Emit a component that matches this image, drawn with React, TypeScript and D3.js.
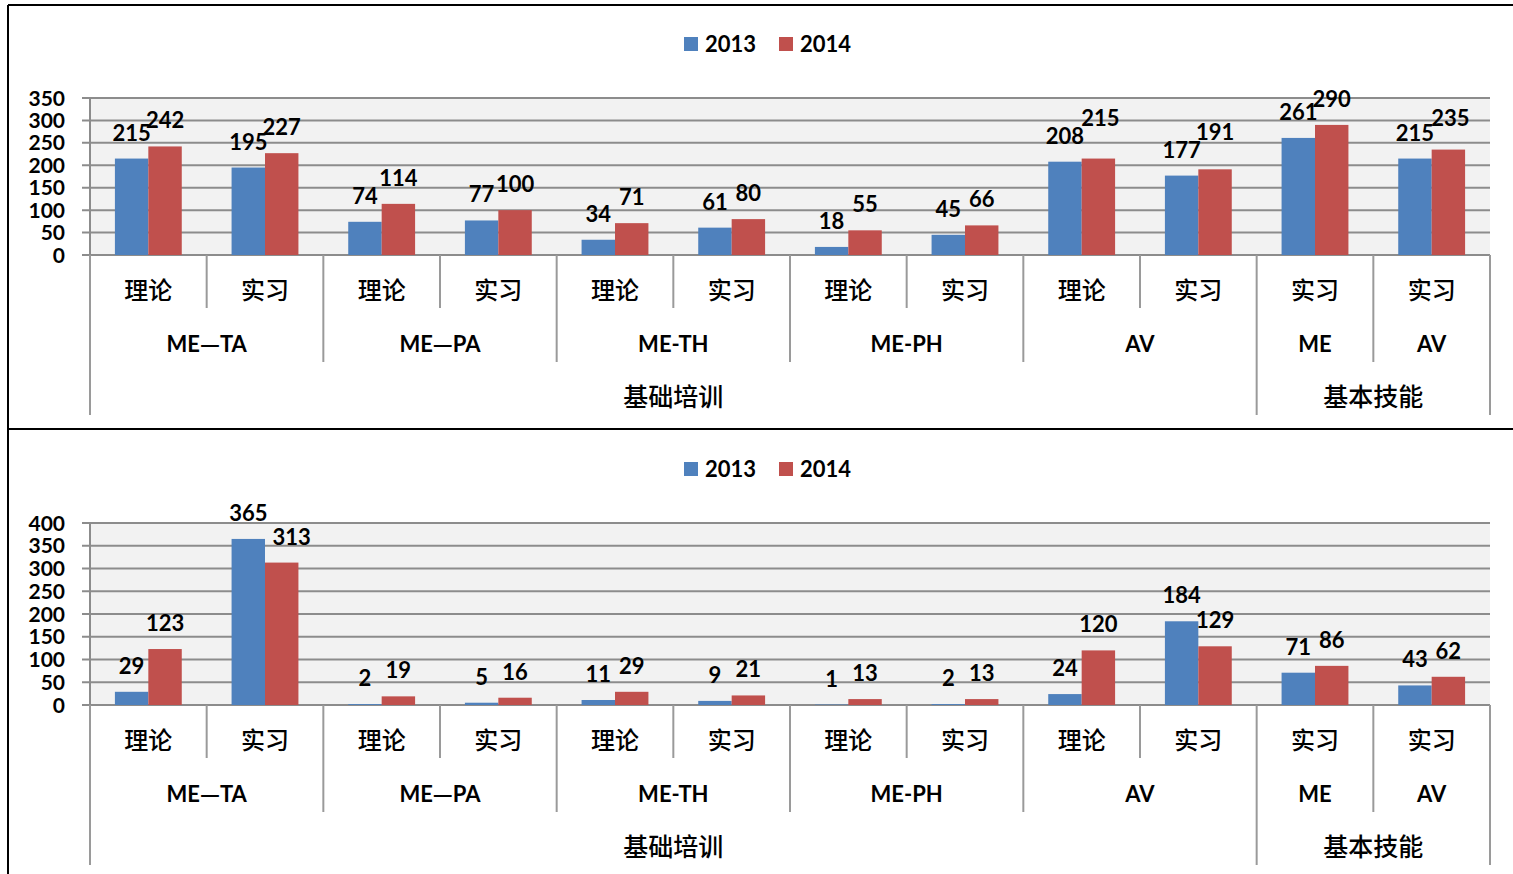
import { scaleBand, scaleLinear, range } from 'd3';

// Categories
const level1 = ['理论', '实习', '理论', '实习', '理论', '实习', '理论', '实习', '理论', '实习', '实习', '实习'];
const level2 = [
    { name: 'ME—TA', span: 2 },
    { name: 'ME—PA', span: 2 },
    { name: 'ME-TH', span: 2 },
    { name: 'ME-PH', span: 2 },
    { name: 'AV', span: 2 },
    { name: 'ME', span: 1 },
    { name: 'AV', span: 1 },
];
const level3 = [
    { name: '基础培训', span: 10 },
    { name: '基本技能', span: 2 },
];
const seriesNames = ['2013', '2014'];

// Values (top chart)
const top2013 = [215, 195, 74, 77, 34, 61, 18, 45, 208, 177, 261, 215];
const top2014 = [242, 227, 114, 100, 71, 80, 55, 66, 215, 191, 290, 235];
const topTicks = [0, 50, 100, 150, 200, 250, 300, 350];

// Values (bottom chart)
const bottom2013 = [29, 365, 2, 5, 11, 9, 1, 2, 24, 184, 71, 43];
const bottom2014 = [123, 313, 19, 16, 29, 21, 13, 13, 120, 129, 86, 62];
const bottomTicks = [0, 50, 100, 150, 200, 250, 300, 350, 400];

// Labels that were dragged by hand in the original (series-index -> [dx, dy])
const topNudge: Record<string, [number, number]> = {
    '1-8': [2, -15],
    '1-9': [0, -11],
    '1-11': [2, -6],
};
const bottomNudge: Record<string, [number, number]> = {
    '1-1': [10, 0],
};

const colors = ['#4f81bd', '#c0504d'];
const numFont = 'Lato, "Open Sans", sans-serif';
const cjkFont = '"Noto Sans CJK SC", sans-serif';
const gridColor = '#8c8c8c';

type ChartProps = {
    values: number[][];
    ticks: number[];
    yTop: number;
    yZero: number;
    legendY: number;
    nudge: Record<string, [number, number]>;
};

// Render a label with em dashes in the CJK font (full width like the original)
function withDash(name: string) {
    const parts = name.split('—');
    return parts.map((p, i) => (
        <tspan key={i}>
            {p}
            {i < parts.length - 1 && <tspan fontFamily={cjkFont}>—</tspan>}
        </tspan>
    ));
}

function Chart({ values, ticks, yTop, yZero, legendY, nudge }: ChartProps) {
    const left = 90;
    const right = 1490;
    const maxTick = ticks[ticks.length - 1];

    const x = scaleBand<number>().domain(range(level1.length)).range([left, right]);
    const sub = scaleBand<number>().domain([0, 1]).range([0, x.bandwidth()]).paddingOuter(0.745);
    const y = scaleLinear().domain([0, maxTick]).range([yZero, yTop]);

    // Boundary depth: 1 = inner, 2 = group, 3 = top level
    const depth = new Array(level1.length + 1).fill(1);
    let acc = 0;
    level2.forEach((g) => {
        acc += g.span;
        depth[acc] = 2;
    });
    acc = 0;
    depth[0] = 3;
    level3.forEach((g) => {
        acc += g.span;
        depth[acc] = 3;
    });
    const tickEnd = [0, yZero + 53, yZero + 107, yZero + 160];

    const xAt = (i: number) => (i < level1.length ? x(i)! : right);

    let start2 = 0;
    let start3 = 0;

    return (
        <g>
            {/* Plot background */}
            <rect x={left} y={yTop} width={right - left} height={yZero - yTop} fill="#f2f2f2" />

            {/* Gridlines and y labels */}
            {ticks.map((t) => (
                <g key={t}>
                    <line x1={left - 8} x2={right} y1={y(t)} y2={y(t)} stroke={gridColor} strokeWidth={2} />
                    <text
                        x={65}
                        y={y(t)}
                        dy="0.36em"
                        textAnchor="end"
                        fontFamily={numFont}
                        fontWeight="bold"
                        fontSize={21}
                    >
                        {t}
                    </text>
                </g>
            ))}
            <line x1={left} x2={left} y1={yTop} y2={yZero} stroke={gridColor} strokeWidth={2} />

            {/* Bars */}
            {values.map((series, s) =>
                series.map((v, i) => (
                    <rect
                        key={`${s}-${i}`}
                        x={x(i)! + sub(s)!}
                        y={y(v)}
                        width={sub.bandwidth()}
                        height={yZero - y(v)}
                        fill={colors[s]}
                    />
                ))
            )}

            {/* Data labels */}
            {values.map((series, s) =>
                series.map((v, i) => {
                    const [dx, dy] = nudge[`${s}-${i}`] || [0, 0];
                    return (
                        <text
                            key={`l${s}-${i}`}
                            x={x(i)! + sub(s)! + sub.bandwidth() / 2 + dx}
                            y={y(v) - 18 + dy}
                            textAnchor="middle"
                            fontFamily={numFont}
                            fontWeight="bold"
                            fontSize={22}
                        >
                            {v}
                        </text>
                    );
                })
            )}

            {/* Category boundaries */}
            {depth.map((d, i) => (
                <line
                    key={`b${i}`}
                    x1={xAt(i)}
                    x2={xAt(i)}
                    y1={yZero}
                    y2={tickEnd[d]}
                    stroke="#9a9a9a"
                    strokeWidth={2}
                />
            ))}

            {/* Level 1 labels */}
            {level1.map((c, i) => (
                <text
                    key={`c1${i}`}
                    x={x(i)! + x.bandwidth() / 2}
                    y={yZero + 35}
                    dy="0.36em"
                    textAnchor="middle"
                    fontFamily={cjkFont}
                    fontWeight={500}
                    fontSize={24}
                >
                    {c}
                </text>
            ))}

            {/* Level 2 labels */}
            {level2.map((g, k) => {
                const a = xAt(start2);
                start2 += g.span;
                const b = xAt(start2);
                return (
                    <text
                        key={`c2${k}`}
                        x={(a + b) / 2}
                        y={yZero + 89}
                        dy="0.36em"
                        textAnchor="middle"
                        fontFamily={numFont}
                        fontWeight="bold"
                        fontSize={22}
                    >
                        {withDash(g.name)}
                    </text>
                );
            })}

            {/* Level 3 labels */}
            {level3.map((g, k) => {
                const a = xAt(start3);
                start3 += g.span;
                const b = xAt(start3);
                return (
                    <text
                        key={`c3${k}`}
                        x={(a + b) / 2}
                        y={yZero + 142}
                        dy="0.36em"
                        textAnchor="middle"
                        fontFamily={cjkFont}
                        fontWeight={500}
                        fontSize={25}
                    >
                        {g.name}
                    </text>
                );
            })}

            {/* Legend */}
            {seriesNames.map((n, s) => (
                <g key={n} transform={`translate(${684 + s * 95}, ${legendY})`}>
                    <rect x={0} y={-7} width={14} height={14} fill={colors[s]} />
                    <text x={21} y={0} dy="0.36em" fontFamily={numFont} fontWeight="bold" fontSize={22}>
                        {n}
                    </text>
                </g>
            ))}
        </g>
    );
}

export default function App() {
    return (
        <svg
            width={1513}
            height={874}
            style={{ position: 'absolute', left: 0, top: 0, background: '#fff' }}
        >
            {/* Frame */}
            <line x1={8} x2={1513} y1={5} y2={5} stroke="#000" strokeWidth={2} />
            <line x1={8} x2={8} y1={5} y2={874} stroke="#000" strokeWidth={2} />
            <line x1={8} x2={1513} y1={429} y2={429} stroke="#000" strokeWidth={2} />

            <Chart
                values={[top2013, top2014]}
                ticks={topTicks}
                yTop={98}
                yZero={255}
                legendY={44}
                nudge={topNudge}
            />
            <Chart
                values={[bottom2013, bottom2014]}
                ticks={bottomTicks}
                yTop={523}
                yZero={705}
                legendY={469}
                nudge={bottomNudge}
            />
        </svg>
    );
}
